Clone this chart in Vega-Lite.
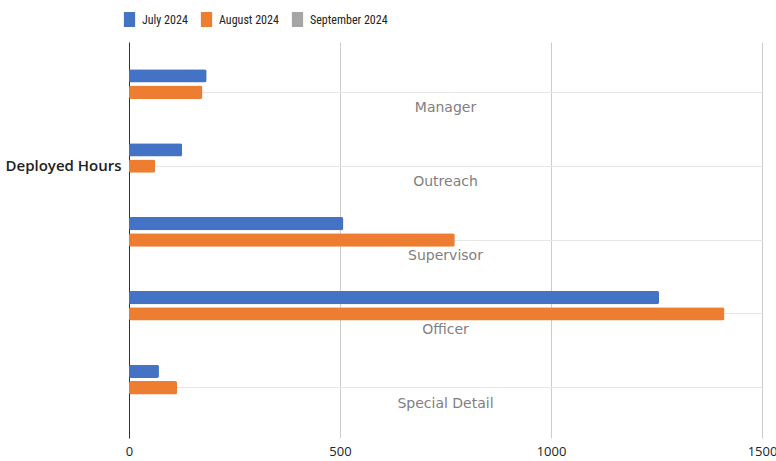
{
  "$schema": "https://vega.github.io/schema/vega-lite/v6.json",
  "width": 633,
  "height": 396,
  "autosize": "none",
  "padding": {"left": 129, "top": 42, "right": 14, "bottom": 23},
  "background": "white",
  "config": {
    "view": {"stroke": null},
    "font": "Open Sans"
  },
  "datasets": {
    "hours": [
      {"role": "Manager", "month": "July 2024", "hours": 184},
      {"role": "Manager", "month": "August 2024", "hours": 174},
      {"role": "Manager", "month": "September 2024", "hours": null},
      {"role": "Outreach", "month": "July 2024", "hours": 126},
      {"role": "Outreach", "month": "August 2024", "hours": 62},
      {"role": "Outreach", "month": "September 2024", "hours": null},
      {"role": "Supervisor", "month": "July 2024", "hours": 508},
      {"role": "Supervisor", "month": "August 2024", "hours": 772},
      {"role": "Supervisor", "month": "September 2024", "hours": null},
      {"role": "Officer", "month": "July 2024", "hours": 1256},
      {"role": "Officer", "month": "August 2024", "hours": 1411},
      {"role": "Officer", "month": "September 2024", "hours": null},
      {"role": "Special Detail", "month": "July 2024", "hours": 71},
      {"role": "Special Detail", "month": "August 2024", "hours": 114},
      {"role": "Special Detail", "month": "September 2024", "hours": null}
    ],
    "roles": [
      {"role": "Manager"},
      {"role": "Outreach"},
      {"role": "Supervisor"},
      {"role": "Officer"},
      {"role": "Special Detail"}
    ]
  },
  "layer": [
    {
      "data": {"name": "hours"},
      "mark": {"type": "bar", "cornerRadius": 2},
      "encoding": {
        "x": {
          "field": "hours",
          "type": "quantitative",
          "scale": {"domain": [0, 1500], "nice": false},
          "axis": {
            "values": [0, 500, 1000, 1500],
            "format": "d",
            "title": null,
            "domain": false,
            "ticks": false,
            "grid": true,
            "gridColor": "#cccccc",
            "labelFont": "Open Sans",
            "labelFontSize": 13,
            "labelColor": "#222222",
            "labelPadding": 7,
            "labelFlush": false
          }
        },
        "y": {
          "field": "role",
          "type": "nominal",
          "scale": {
            "domain": ["Manager", "Outreach", "Supervisor", "Officer", "Special Detail"],
            "paddingInner": 0.379,
            "paddingOuter": 0.37
          },
          "axis": {
            "title": "Deployed Hours",
            "titleAngle": 0,
            "titleAlign": "right",
            "titleBaseline": "middle",
            "titleX": -8,
            "titleY": 123,
            "titleFont": "Open Sans",
            "titleFontSize": 15,
            "titleFontWeight": 600,
            "titleColor": "#222222",
            "labels": false,
            "ticks": false,
            "domain": true,
            "domainColor": "#333333",
            "domainWidth": 1,
            "grid": true,
            "gridColor": "#e6e6e6",
            "bandPosition": 0.5
          }
        },
        "yOffset": {
          "field": "month",
          "type": "nominal",
          "scale": {
            "domain": ["July 2024", "August 2024", "September 2024"],
            "paddingInner": 0.184,
            "paddingOuter": 0
          }
        },
        "color": {
          "field": "month",
          "type": "nominal",
          "scale": {
            "domain": ["July 2024", "August 2024", "September 2024"],
            "range": ["#4472c4", "#ed7d31", "#a5a5a5"]
          },
          "legend": {
            "title": null,
            "orient": "none",
            "direction": "horizontal",
            "legendX": -7,
            "legendY": -30,
            "symbolType": "M-0.75,-1H0.75V1H-0.75Z",
            "symbolSize": 225,
            "symbolStrokeWidth": 0,
            "labelFont": "Liberation Sans Narrow, Roboto Condensed, Liberation Sans",
            "labelFontSize": 12,
            "labelColor": "#222222",
            "labelOffset": 5,
            "columnPadding": 11
          }
        }
      }
    },
    {
      "data": {"name": "roles"},
      "mark": {
        "type": "text",
        "dy": 16,
        "font": "DejaVu Sans",
        "fontSize": 14,
        "color": "#808080",
        "align": "center",
        "baseline": "middle"
      },
      "encoding": {
        "x": {"datum": 750, "type": "quantitative"},
        "y": {"field": "role", "type": "nominal"},
        "text": {"field": "role"}
      }
    }
  ]
}
